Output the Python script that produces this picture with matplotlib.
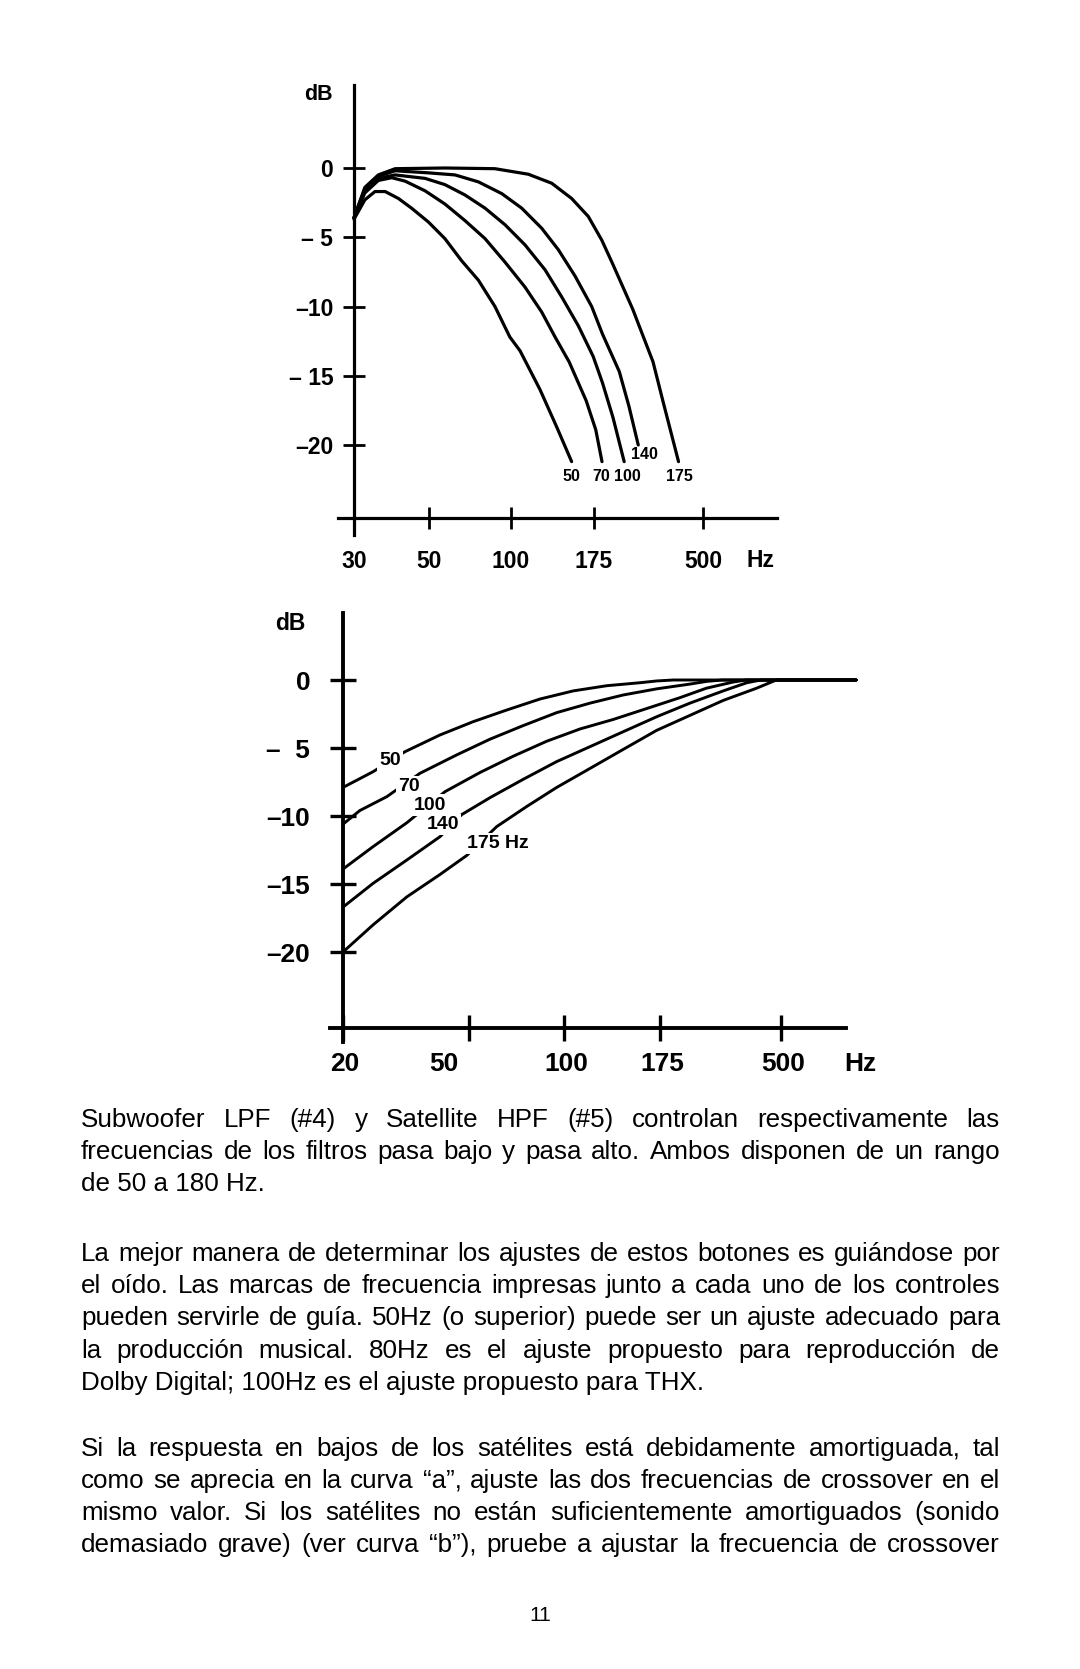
import numpy as np
import matplotlib
matplotlib.use("Agg")
import matplotlib.pyplot as plt

# ---------------- data ----------------
# Top chart: subwoofer low-pass responses (Hz, dB)
lpf_names = ["50", "70", "100", "140", "175"]
lpf50_hz = [30, 32.3, 34.6, 37.1, 40.6, 44.4, 49.8, 57.2, 65.9, 75.9, 87.3, 99, 106.3, 121.6, 136.1, 150.5]
lpf50_db = [-3.7, -2.3, -1.7, -1.7, -2.2, -2.9, -3.9, -5.1, -6.7, -8.1, -10.0, -12.2, -13.2, -16.0, -18.7, -21.2]
lpf70_hz = [30, 32.3, 35.4, 38.8, 42.5, 48.7, 57.2, 67.8, 80.3, 95.1, 109.9, 123, 134.6, 148, 166, 178, 189]
lpf70_db = [-3.6, -1.8, -0.9, -0.7, -0.95, -1.65, -2.6, -3.8, -5.1, -6.8, -8.6, -10.4, -12.2, -14.0, -16.8, -18.9, -21.2]
lpf100_hz = [30, 32.3, 35.4, 39.7, 48.7, 57.2, 67.8, 80.3, 95.1, 109.9, 125.8, 140.7, 157.5, 174, 189.8, 210, 234]
lpf100_db = [-3.6, -1.6, -0.75, -0.5, -0.75, -1.2, -1.95, -2.9, -4.1, -5.55, -7.35, -9.3, -11.4, -13.6, -15.5, -18.0, -21.2]
lpf140_hz = [30, 32.3, 35.4, 39.7, 49.8, 62.3, 75.9, 92.5, 107.5, 123, 137.6, 154, 172.3, 190, 223.3, 245, 268]
lpf140_db = [-3.6, -1.5, -0.6, -0.2, -0.35, -0.5, -1.0, -1.85, -2.9, -4.35, -5.9, -7.8, -10.0, -12.0, -14.7, -17.2, -20.0]
lpf175_hz = [30, 32.3, 35.4, 39.7, 57.2, 87.3, 112.4, 131.6, 150.5, 168.4, 188.5, 209.2, 254.2, 309, 340.7, 395]
lpf175_db = [-3.6, -1.4, -0.5, -0.05, 0.0, -0.05, -0.45, -1.1, -2.2, -3.5, -5.2, -6.9, -10.2, -14.0, -16.9, -21.2]

# Bottom chart: satellite high-pass responses (Hz, dB)
hpf_names = ["50", "70", "100", "140", "175 Hz"]
hpf50_hz = [20, 24.9, 31.4, 40.5, 51.6, 65.8, 83.9, 105.6, 128.3, 155.8, 171.7, 196.4, 960]
hpf50_db = [-7.9, -6.74, -5.27, -4.04, -3.06, -2.21, -1.4, -0.8, -0.42, -0.2, -0.07, 0, 0]
hpf70_hz = [20, 22.6, 27.5, 35.0, 45.7, 58.3, 74.3, 94.8, 116.4, 141.3, 171.7, 227, 262.4, 300, 960]
hpf70_db = [-10.6, -9.6, -8.58, -6.86, -5.51, -4.35, -3.35, -2.4, -1.7, -1.1, -0.65, -0.3, -0.1, 0, 0]
hpf100_hz = [20, 24.9, 31.8, 42.0, 54.2, 69.1, 88.2, 109.8, 133.3, 161.9, 208, 262, 330, 370, 960]
hpf100_db = [-13.9, -12.25, -10.5, -8.21, -6.8, -5.6, -4.5, -3.6, -2.9, -2.1, -1.3, -0.6, -0.15, 0, 0]
hpf140_hz = [20, 24.9, 31.8, 40.5, 47.4, 58.3, 74.3, 94.8, 116.4, 141.3, 171.7, 227, 303, 372, 420, 960]
hpf140_db = [-16.7, -14.95, -13.24, -11.52, -9.9, -8.65, -7.3, -6.0, -4.9, -3.8, -2.7, -1.7, -0.8, -0.2, 0, 0]
hpf175_hz = [20, 24.9, 31.8, 40.5, 49.2, 61.2, 76.2, 94.8, 116.4, 141.3, 171.7, 227, 303, 405, 480, 960]
hpf175_db = [-20.0, -18.0, -15.95, -14.3, -12.9, -10.78, -9.3, -7.9, -6.5, -5.1, -3.7, -2.6, -1.5, -0.6, 0, 0]

# Axis ticks
top_xticks = [30, 50, 100, 175, 500]
top_xlabels = ["30", "50", "100", "175", "500"]
bot_xticks = [20, 50, 100, 175, 500]
bot_xlabels = ["20", "50", "100", "175", "500"]
yticks = [0, -5, -10, -15, -20]
top_ylabels = ["0", "– 5", "–10", "– 15", "–20"]
bot_ylabels = ["0", "–  5", "–10", "–15", "–20"]

# Body text (line by line, as printed)
paragraphs = [
    ["Subwoofer LPF (#4) y Satellite HPF (#5) controlan respectivamente las",
     "frecuencias de los filtros pasa bajo y pasa alto. Ambos disponen de un rango",
     "de 50 a 180 Hz."],
    ["La mejor manera de determinar los ajustes de estos botones es guiándose por",
     "el oído. Las marcas de frecuencia impresas junto a cada uno de los controles",
     "pueden servirle de guía. 50Hz (o superior) puede ser un ajuste adecuado para",
     "la producción musical. 80Hz es el ajuste propuesto para reproducción de",
     "Dolby Digital; 100Hz es el ajuste propuesto para THX."],
    ["Si la respuesta en bajos de los satélites está debidamente amortiguada, tal",
     "como se aprecia en la curva  “a”, ajuste las dos frecuencias de crossover en el",
     "mismo valor. Si los satélites no están suficientemente amortiguados (sonido",
     "demasiado grave) (ver curva “b”), pruebe a ajustar la frecuencia de crossover"],
]
justified_last = [False, False, True]
page_number = "11"

# ---------------- layout ----------------
W, H, DPI = 1080, 1669, 100
plt.rcParams["font.family"] = ["Liberation Sans", "DejaVu Sans"]
fig = plt.figure(figsize=(W / DPI, H / DPI), dpi=DPI)
fig.patch.set_facecolor("white")


def fx(px):
    return px / W


def fy(py):
    return 1 - py / H


def piecewise_log_scale(tick_hz, tick_px):
    """Hand-drawn frequency axis: log spacing that differs between tick marks."""
    lt = np.log10(np.asarray(tick_hz, float))
    pp = np.asarray(tick_px, float)
    s0 = (pp[1] - pp[0]) / (lt[1] - lt[0])
    s1 = (pp[-1] - pp[-2]) / (lt[-1] - lt[-2])

    def fwd(f):
        f = np.asarray(f, float)
        lf = np.log10(np.where(f > 0, f, 1e-9))
        return np.where(lf < lt[0], pp[0] + (lf - lt[0]) * s0,
                        np.where(lf > lt[-1], pp[-1] + (lf - lt[-1]) * s1,
                                 np.interp(lf, lt, pp)))

    def inv(u):
        u = np.asarray(u, float)
        lf = np.where(u < pp[0], lt[0] + (u - pp[0]) / s0,
                      np.where(u > pp[-1], lt[-1] + (u - pp[-1]) / s1,
                               np.interp(u, pp, lt)))
        return 10 ** lf
    return fwd, inv


def make_chart(box, tick_hz, tick_px, y0_px, px_per_db, xaxis_py, yaxis_hz,
               lw_axis, tick_len, tick_w, fs, xpad, ypad, ylabels, xlabels):
    left, top, right, bottom = box
    ax = fig.add_axes([fx(left), fy(bottom), (right - left) / W, (bottom - top) / H])
    fwd, inv = piecewise_log_scale(tick_hz, tick_px)
    ax.set_xscale("function", functions=(fwd, inv))
    ax.set_xlim(inv(left), inv(right))
    ax.set_ylim(-(bottom - y0_px) / px_per_db, (y0_px - top) / px_per_db)
    ax.patch.set_alpha(0)
    for s in ["top", "right"]:
        ax.spines[s].set_visible(False)
    ax.spines["left"].set_position(("data", yaxis_hz))
    ax.spines["bottom"].set_position(("data", -(xaxis_py - y0_px) / px_per_db))
    for s in ["left", "bottom"]:
        ax.spines[s].set_linewidth(lw_axis)
        ax.spines[s].set_color("black")
    ax.set_yticks(yticks)
    ax.set_yticklabels(ylabels)
    ax.set_xticks(tick_hz)
    ax.xaxis.set_minor_locator(matplotlib.ticker.NullLocator())
    ax.set_xticklabels(xlabels if xlabels is not None else [""] * len(tick_hz))
    ax.tick_params(axis="both", direction="inout", length=tick_len, width=tick_w,
                   labelsize=fs, colors="black")
    ax.tick_params(axis="x", pad=xpad)
    ax.tick_params(axis="y", pad=ypad)
    for lab in ax.get_xticklabels() + ax.get_yticklabels():
        lab.set_fontweight("bold")
    return ax


# ---- top chart ----
ax1 = make_chart(box=(338, 85, 777, 535), tick_hz=top_xticks,
                 tick_px=[354, 429, 511, 594, 703], y0_px=168, px_per_db=13.85,
                 xaxis_py=518, yaxis_hz=30, lw_axis=2.3, tick_len=16, tick_w=2.0,
                 fs=16.5, xpad=15, ypad=7, ylabels=top_ylabels, xlabels=top_xlabels)
lpf_series = [(lpf50_hz, lpf50_db), (lpf70_hz, lpf70_db), (lpf100_hz, lpf100_db),
              (lpf140_hz, lpf140_db), (lpf175_hz, lpf175_db)]
for hz, db in lpf_series:
    ax1.plot(hz, db, color="black", lw=2.3, solid_joinstyle="round",
             solid_capstyle="round", clip_on=False)
lpf_label_pos = {"50": (150.6, -22.3), "70": (188.5, -22.3), "100": (240.4, -22.3),
                 "140": (283.3, -20.7), "175": (396.8, -22.3)}
for name in lpf_names:
    x, y = lpf_label_pos[name]
    ax1.text(x, y, name, ha="center", va="center", fontsize=11.5, fontweight="bold")
fig.text(fx(318), fy(95), "dB", ha="center", va="center", fontsize=15.5, fontweight="bold")
fig.text(fx(761), fy(560), "Hz", ha="center", va="center", fontsize=16.5, fontweight="bold")

# ---- bottom chart ----
ax2 = make_chart(box=(330, 613, 846, 1042), tick_hz=bot_xticks,
                 tick_px=[343, 469, 564, 660, 781], y0_px=680, px_per_db=13.6,
                 xaxis_py=1028, yaxis_hz=20, lw_axis=2.8, tick_len=19, tick_w=2.4,
                 fs=19, xpad=6, ypad=14, ylabels=bot_ylabels, xlabels=None)
hpf_series = [(hpf50_hz, hpf50_db), (hpf70_hz, hpf70_db), (hpf100_hz, hpf100_db),
              (hpf140_hz, hpf140_db), (hpf175_hz, hpf175_db)]
for hz, db in hpf_series:
    ax2.plot(hz, db, color="black", lw=2.1, solid_joinstyle="round",
             solid_capstyle="round", clip_on=False)
hpf_label_pos = {"50": (28.2, -5.9), "70": (32.2, -7.85), "100": (37.5, -9.2),
                 "140": (41.4, -10.65), "175 Hz": (61.9, -12.0)}
for name in hpf_names:
    x, y = hpf_label_pos[name]
    ax2.text(x, y, name, ha="center", va="center", fontsize=14, fontweight="bold",
             zorder=5, bbox=dict(fc="white", ec="none", pad=1.5))
# hand-lettered x tick labels (the "50" is written left of its tick)
xaxis_db2 = -(1028 - 680) / 13.6
label_nudge_px = {"50": -25}
for hz, lab in zip(bot_xticks, bot_xlabels):
    ax2.annotate(lab, xy=(hz, xaxis_db2), xycoords="data",
                 xytext=(label_nudge_px.get(lab, 2), -36), textcoords="offset pixels",
                 ha="center", va="center", fontsize=19, fontweight="bold",
                 annotation_clip=False)
fig.text(fx(290), fy(623), "dB", ha="center", va="center", fontsize=16.5, fontweight="bold")
fig.text(fx(860), fy(1064), "Hz", ha="center", va="center", fontsize=19, fontweight="bold")

# ---------------- body text ----------------
renderer = fig.canvas.get_renderer()
TEXT_L, TEXT_R = 81, 1000
BODY_FS = 18.7
para_first_center = [1117.6, 1251.8, 1446.5]
LINE_STEP = 32.3


def put_line(text, y_base_px, justify):
    if not justify:
        fig.text(fx(TEXT_L), fy(y_base_px), text, ha="left", va="baseline",
                 fontsize=BODY_FS)
        return
    words = text.split()
    objs = [fig.text(0, fy(y_base_px), w, ha="left", va="baseline", fontsize=BODY_FS)
            for w in words]
    widths = [o.get_window_extent(renderer).width for o in objs]
    gap = (TEXT_R - TEXT_L - sum(widths)) / (len(words) - 1)
    x = TEXT_L
    for o, wd in zip(objs, widths):
        o.set_x(fx(x))
        x += wd + gap


for p_i, lines in enumerate(paragraphs):
    for l_i, line in enumerate(lines):
        last = l_i == len(lines) - 1
        just = (not last) or justified_last[p_i]
        put_line(line, para_first_center[p_i] + l_i * LINE_STEP + 9, just)

fig.text(fx(540), fy(1615), page_number, ha="center", va="center", fontsize=15)

fig.savefig("out.png", dpi=DPI, facecolor="white")
